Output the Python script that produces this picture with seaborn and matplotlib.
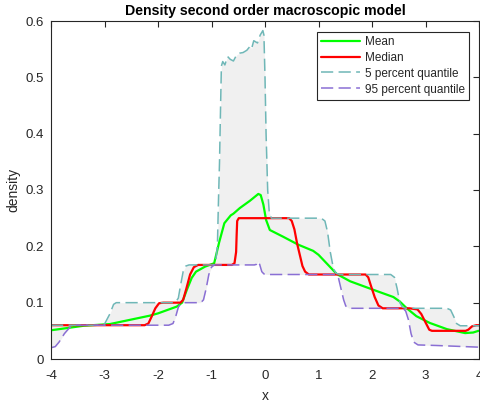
import numpy as np
import pandas as pd
import matplotlib
matplotlib.use("Agg")
import matplotlib.pyplot as plt
import seaborn as sns

# ---- data ----
upper_x = [-4.0, -3.05, -3.0, -2.9, -2.83, -2.78, -1.68, -1.62, -1.58, -1.53, -1.48, -1.42,
           -0.95, -0.92, -0.89, -0.87, -0.85, -0.83, -0.815, -0.79, -0.75, -0.70, -0.65, -0.59,
           -0.53, -0.47, -0.41, -0.34, -0.28, -0.25, -0.21, -0.14, -0.09, -0.04, -0.02, 0.0,
           0.02, 0.05, 0.08, 0.12, 1.05, 1.12, 1.17, 1.22, 1.28, 1.33, 1.40, 2.35, 2.42, 2.47,
           2.52, 2.57, 2.63, 3.40, 3.47, 3.53, 3.58, 3.65, 4.0]
upper_y = [0.06, 0.06, 0.062, 0.08, 0.097, 0.10, 0.10, 0.108, 0.13, 0.155, 0.165, 0.167,
           0.167, 0.175, 0.20, 0.28, 0.35, 0.45, 0.52, 0.528, 0.522, 0.537, 0.532, 0.529,
           0.540, 0.543, 0.544, 0.548, 0.555, 0.551, 0.565, 0.561, 0.575, 0.583, 0.575, 0.50,
           0.40, 0.30, 0.26, 0.25, 0.25, 0.245, 0.225, 0.19, 0.16, 0.152, 0.15, 0.15, 0.145, 0.125,
           0.10, 0.092, 0.09, 0.09, 0.087, 0.075, 0.063, 0.059, 0.059]

lower_x = [-4.0, -3.92, -3.85, -3.75, -3.65, -3.55, -1.80, -1.72, -1.67, -1.62, -1.57, -1.50,
           -1.20, -1.15, -1.10, -1.05, -1.00, -0.95, -0.20, -0.16, -0.13, -0.10, -0.06, -0.02,
           0.05, 1.32, 1.37, 1.42, 1.47, 1.51, 1.57, 2.58, 2.63, 2.68, 2.73, 2.78, 2.86, 3.2, 4.0]
lower_y = [0.02, 0.022, 0.03, 0.045, 0.056, 0.06, 0.06, 0.063, 0.075, 0.092, 0.099, 0.10,
           0.10, 0.105, 0.125, 0.15, 0.163, 0.167, 0.167, 0.168, 0.173, 0.168, 0.155, 0.151,
           0.15, 0.15, 0.145, 0.125, 0.105, 0.094, 0.09, 0.09, 0.085, 0.07, 0.045, 0.03, 0.025,
           0.024, 0.021]

median_x = [-4.0, -2.25, -2.18, -2.12, -2.05, -1.98, -1.90, -1.58, -1.53, -1.47, -1.40, -1.33,
            -1.25, -0.62, -0.57, -0.54, -0.53, -0.52, -0.49, 0.45, 0.50, 0.55, 0.60, 0.65, 0.70,
            0.75, 0.82, 1.88, 1.93, 1.98, 2.05, 2.12, 2.20, 2.60, 2.70, 2.85, 2.92, 3.00, 3.07,
            3.12, 3.75, 3.80, 3.87, 3.95, 4.0]
median_y = [0.06, 0.06, 0.063, 0.075, 0.09, 0.099, 0.10, 0.10, 0.105, 0.125, 0.15, 0.163,
            0.167, 0.167, 0.17, 0.19, 0.22, 0.245, 0.25, 0.25, 0.245, 0.23, 0.205, 0.185, 0.165,
            0.155, 0.15, 0.15, 0.145, 0.13, 0.11, 0.095, 0.09, 0.09, 0.09, 0.088, 0.08, 0.065,
            0.052, 0.05, 0.05, 0.052, 0.058, 0.06, 0.06]

mean_x = [-4.0, -3.39, -2.90, -2.15, -2.0, -1.65, -1.55, -1.46, -1.37, -1.29, -1.12, -0.95,
          -0.86, -0.76, -0.64, -0.59, -0.47, -0.28, -0.125, -0.08, -0.03, 0.02, 0.09, 0.34,
          0.62, 0.9, 1.0, 1.15, 1.34, 1.59, 2.02, 2.40, 2.52, 2.65, 2.83, 3.08, 3.40, 3.74,
          3.89, 3.99]
mean_y = [0.051, 0.059, 0.062, 0.077, 0.081, 0.093, 0.10, 0.123, 0.144, 0.155, 0.164, 0.170,
          0.206, 0.241, 0.255, 0.258, 0.268, 0.281, 0.293, 0.291, 0.274, 0.247, 0.229, 0.217,
          0.203, 0.192, 0.185, 0.170, 0.151, 0.138, 0.123, 0.110, 0.102, 0.090, 0.076, 0.064,
          0.053, 0.046, 0.047, 0.050]

x_ticks = [-4, -3, -2, -1, 0, 1, 2, 3, 4]
y_ticks = [0, 0.1, 0.2, 0.3, 0.4, 0.5, 0.6]
y_labels = ["0", "0.1", "0.2", "0.3", "0.4", "0.5", "0.6"]

# ---- plotting ----
sns.set_style("white")
plt.rcParams["font.family"] = ["Liberation Sans", "DejaVu Sans"]

fig = plt.figure(figsize=(4.81, 4.03), dpi=100)
ax = fig.add_axes([51 / 481, 1 - 359 / 403, 428 / 481, 338 / 403])

# shaded band between quantiles on a common grid of the read points
grid = np.array(sorted(set(upper_x) | set(lower_x)))
up_i = np.interp(grid, upper_x, upper_y)
lo_i = np.interp(grid, lower_x, lower_y)
ax.fill_between(grid, lo_i, up_i, color="#f0f0f0", linewidth=0, zorder=0)

sns.lineplot(x=mean_x, y=mean_y, ax=ax, color="#00ff00", linewidth=1.6, label="Mean",
             sort=False, estimator=None)
sns.lineplot(x=median_x, y=median_y, ax=ax, color="#ff0000", linewidth=1.6, label="Median",
             sort=False, estimator=None)
sns.lineplot(x=upper_x, y=upper_y, ax=ax, color="#6fb7b7", linewidth=1.1,
             label="5 percent quantile", sort=False, estimator=None)
sns.lineplot(x=lower_x, y=lower_y, ax=ax, color="#8a6fd4", linewidth=1.1,
             label="95 percent quantile", sort=False, estimator=None)
lines = ax.get_lines()
lines[2].set_dashes((8, 3.5))
lines[3].set_dashes((8, 3.5))

ax.set_xlim(-4, 4)
ax.set_ylim(0, 0.6)
ax.set_xticks(x_ticks)
ax.set_xticklabels([str(t) for t in x_ticks])
ax.set_yticks(y_ticks)
ax.set_yticklabels(y_labels)

for s in ax.spines.values():
    s.set_visible(True)
    s.set_color("#262626")
    s.set_linewidth(0.8)
ax.tick_params(direction="in", length=4, width=0.8, color="#262626",
               labelsize=9.5, labelcolor="#262626", top=True, right=True,
               labeltop=False, labelright=False)
ax.tick_params(axis="x", pad=8)
ax.tick_params(axis="y", pad=5)
ax.set_xlabel("x", fontsize=10, color="#262626", labelpad=5)
ax.set_ylabel("density", fontsize=10, color="#262626", labelpad=4)
ax.set_title("Density second order macroscopic model", fontsize=10.2, fontweight="bold",
             color="black", pad=4)

leg = ax.legend(loc="upper right", fontsize=8.5, frameon=True, fancybox=False,
                edgecolor="#262626", framealpha=1, handlelength=3.3, borderpad=0.35,
                labelspacing=0.33, handletextpad=0.4, borderaxespad=0.0,
                bbox_to_anchor=(469 / 481, 1 - 31.7 / 403), bbox_transform=fig.transFigure)
leg.get_frame().set_linewidth(0.8)

fig.savefig("out.png", dpi=100)
